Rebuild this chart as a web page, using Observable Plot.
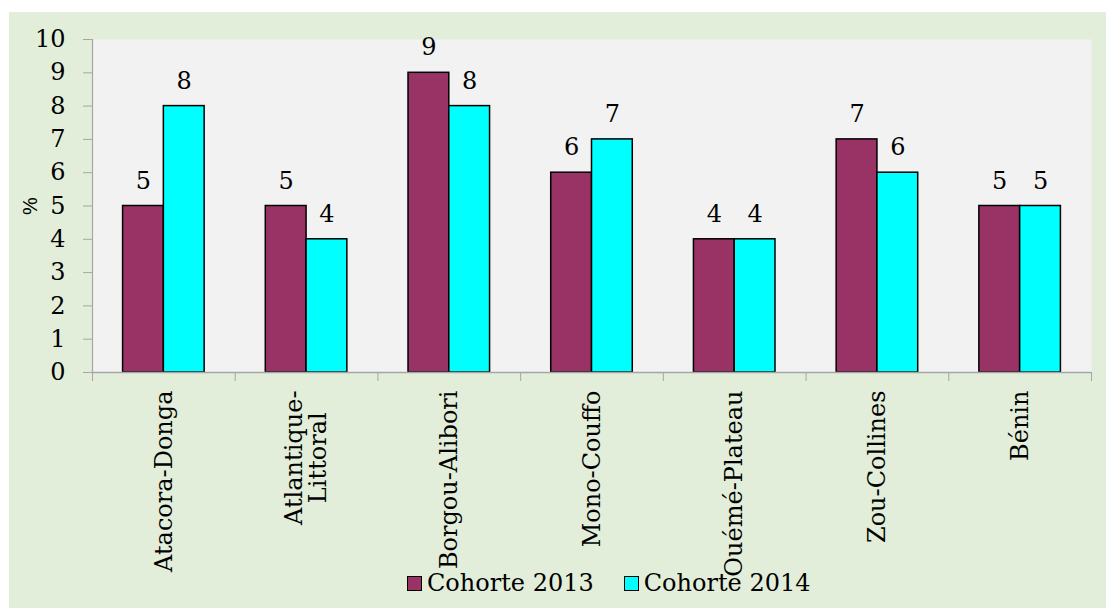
<!DOCTYPE html>
<html>
<head>
<meta charset="utf-8">
<script src="https://cdn.jsdelivr.net/npm/d3@7"></script>
<script src="https://cdn.jsdelivr.net/npm/@observablehq/plot@0.6"></script>
<style>
  html, body { margin: 0; padding: 0; background: #ffffff; }
  #wrap { position: absolute; left: 9px; top: 12px; width: 1097px; height: 596px; background: #e2eed9; overflow: hidden; }
  #legend { position: absolute; left: 398px; top: 557px; display: flex; align-items: center; font-family: "DejaVu Serif", serif; font-size: 24px; color: #000; white-space: nowrap; }
  #legend .sw { display: inline-block; width: 13px; height: 13px; border: 1.5px solid #000; margin-right: 5px; }
  #legend .item { display: flex; align-items: center; margin-right: 30px; }
  svg [aria-label="y-axis label"] text, svg [aria-label="y-axis label"] { font-family: "Liberation Sans", Arial, sans-serif; font-size: 20px; }
</style>
</head>
<body>
<div id="wrap"></div>
<script>
const categories = ["Atacora-Donga", "Atlantique-\nLittoral", "Borgou-Alibori", "Mono-Couffo", "Ouémé-Plateau", "Zou-Collines", "Bénin"];
const seriesNames = ["Cohorte 2013", "Cohorte 2014"];
const cohorte2013 = [5, 5, 9, 6, 4, 7, 5];
const cohorte2014 = [8, 4, 8, 7, 4, 6, 5];
const seriesColors = ["#993366", "#00ffff"];
const yTicks = [0, 1, 2, 3, 4, 5, 6, 7, 8, 9, 10];

const gapWidth = 0.75;               // Excel-style gap width
const group = 1 / (1 + gapWidth);
const barW = group / seriesNames.length;
const start = (1 - group) / 2;

const rows = [];
[cohorte2013, cohorte2014].forEach((vals, s) => {
  vals.forEach((v, i) => {
    const x1 = i + start + s * barW;
    rows.push({cat: categories[i], series: seriesNames[s], value: v, x1, x2: x1 + barW, xc: x1 + barW / 2});
  });
});

const gray = "#a6a6a6";
const FS = 24;
const chart = Plot.plot({
  width: 1097,
  height: 596,
  marginTop: 27,
  marginBottom: 236,
  marginLeft: 83,
  marginRight: 15,
  style: {fontFamily: "DejaVu Serif, serif", fontSize: FS + "px", background: "transparent", overflow: "visible"},
  x: {type: "linear", domain: [0, categories.length]},
  y: {domain: [0, 10]},
  color: {domain: seriesNames, range: seriesColors},
  marks: [
    Plot.frame({fill: "#f2f2f2", stroke: null}),
    Plot.axisY({ticks: yTicks, tickSize: 9, tickPadding: 18, stroke: gray, fill: "black", fontSize: FS,
                label: "%", labelAnchor: "center", labelArrow: "none", labelOffset: 70}),
    Plot.ruleX([0], {stroke: gray, strokeWidth: 1.2}),
    Plot.rectY(rows, {x1: "x1", x2: "x2", y: "value", fill: "series", stroke: "black", strokeWidth: 1.5}),
    Plot.ruleY([0], {stroke: gray, strokeWidth: 1.5}),
    Plot.axisX({ticks: d3.range(categories.length + 1), tickSize: 9, tickFormat: () => "", stroke: gray, label: null}),
    Plot.axisX({ticks: categories.map((d, i) => i + 0.5), tickSize: 0, tickPadding: 18, tickRotate: -90,
                tickFormat: d => categories[Math.floor(d)], fontSize: FS, fill: "black", label: null}),
    Plot.text(rows, {x: "xc", y: "value", text: d => String(d.value), dy: -25, fontSize: FS, fill: "black"})
  ]
});
const wrap = document.getElementById("wrap");
wrap.appendChild(chart);

// center the lines of multi-line category labels within their block
chart.querySelectorAll('[aria-label="x-axis tick label"] text').forEach(t => {
  const spans = t.querySelectorAll("tspan");
  if (spans.length > 1) {
    const lens = Array.from(spans, s => s.getComputedTextLength());
    const maxLen = Math.max(...lens);
    spans.forEach((s, k) => s.setAttribute("dx", -(maxLen - lens[k]) / 2));
  }
});

// legend
const legend = document.createElement("div");
legend.id = "legend";
seriesNames.forEach((name, s) => {
  const item = document.createElement("div");
  item.className = "item";
  const sw = document.createElement("span");
  sw.className = "sw";
  sw.style.background = seriesColors[s];
  item.appendChild(sw);
  item.appendChild(document.createTextNode(name));
  legend.appendChild(item);
});
wrap.appendChild(legend);
</script>
</body>
</html>
